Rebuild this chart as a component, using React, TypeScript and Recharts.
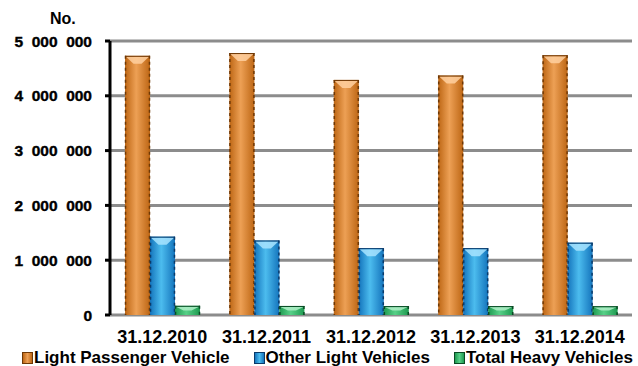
import React from 'react';
import { BarChart, Bar, XAxis, YAxis, CartesianGrid, Legend } from 'recharts';

// vehicle fleet at year end
const dates = ['31.12.2010', '31.12.2011', '31.12.2012', '31.12.2013', '31.12.2014'];
const lightPassenger = [4730000, 4780000, 4290000, 4370000, 4740000];
const otherLight = [1430000, 1360000, 1220000, 1220000, 1320000];
const totalHeavy = [168000, 165000, 162000, 162000, 160000];
const yTicks = [0, 1000000, 2000000, 3000000, 4000000, 5000000];

const series = [
  { key: 'lpv', name: 'Light Passenger Vehicle', base: '#bd6614', light: '#eda055', dark: '#6e3806', cap: '#ffd0a0' },
  { key: 'olv', name: 'Other Light Vehicles', base: '#1474bc', light: '#4cbcee', dark: '#0a3a6a', cap: '#a8e4ff' },
  { key: 'thv', name: 'Total Heavy Vehicles', base: '#1e9a50', light: '#58d088', dark: '#0a4a24', cap: '#b0f0c8' },
];

const data = dates.map((d, i) => ({
  date: d,
  lpv: lightPassenger[i],
  olv: otherLight[i],
  thv: totalHeavy[i],
}));

const FONT = '"Liberation Sans", Arial, sans-serif';

const fmt = (v: number) => v.toLocaleString('en-US').replace(/,/g, '\u2007');

const makeShape = (s: typeof series[number]) => (props: any) => {
  const { x, y, width, height } = props;
  if (!height || height <= 0) return null;
  const capH = Math.min(8, height * 0.5);
  return (
    <g>
      <rect x={x} y={y} width={width} height={height} fill={`url(#grad-${s.key})`} />
      <polygon
        points={`${x + 1},${y + 1} ${x + width - 1},${y + 1} ${x + width / 2 + 4},${y + capH} ${x + width / 2 - 4},${y + capH}`}
        fill={s.cap}
        opacity={0.85}
      />
      <line x1={x + 0.5} y1={y} x2={x + 0.5} y2={y + height} stroke={s.dark} strokeWidth={1.5} strokeDasharray="3 3" />
      <line x1={x + width - 0.5} y1={y} x2={x + width - 0.5} y2={y + height} stroke={s.dark} strokeWidth={1.5} strokeDasharray="3 3" />
      <line x1={x} y1={y + 0.5} x2={x + width} y2={y + 0.5} stroke={s.dark} strokeWidth={1} />
    </g>
  );
};

const renderLegend = () => (
  <div style={{ display: 'flex', alignItems: 'center', height: 20, paddingLeft: 22, fontFamily: FONT, fontWeight: 'bold', fontSize: 17, color: '#000' }}>
    {series.map((s) => (
      <div key={s.key} style={{ display: 'flex', alignItems: 'center', marginRight: 24 }}>
        <span
          style={{
            display: 'inline-block',
            width: 11,
            height: 12,
            marginRight: 1,
            border: `1px solid ${s.dark}`,
            boxSizing: 'border-box',
            background: `linear-gradient(90deg, ${s.base}, ${s.light} 50%, ${s.base})`,
          }}
        />
        <span style={{ whiteSpace: 'nowrap' }}>{s.name}</span>
      </div>
    ))}
  </div>
);

export default function App() {
  return (
    <div style={{ position: 'absolute', left: 0, top: 0, width: 638, height: 366, background: '#fff' }}>
      <div style={{ position: 'absolute', left: 50, top: 10, fontFamily: FONT, fontWeight: 'bold', fontSize: 16 }}>No.</div>
      <BarChart
        width={638}
        height={366}
        data={data}
        margin={{ top: 41, right: 6, left: 0, bottom: 1 }}
        barSize={25}
        barGap={0}
      >
        <defs>
          {series.map((s) => (
            <linearGradient key={s.key} id={`grad-${s.key}`} x1="0" y1="0" x2="1" y2="0">
              <stop offset="0%" stopColor={s.base} />
              <stop offset="45%" stopColor={s.light} />
              <stop offset="100%" stopColor={s.base} />
            </linearGradient>
          ))}
        </defs>
        <CartesianGrid vertical={false} stroke="#8c8c8c" strokeWidth={3} />
        <XAxis
          dataKey="date"
          axisLine={false}
          tickLine={false}
          height={30}
          tickMargin={9}
          tick={{ fill: '#000', fontFamily: FONT, fontWeight: 'bold', fontSize: 18 }}
        />
        <YAxis
          width={110}
          domain={[0, 5000000]}
          ticks={yTicks}
          interval={0}
          tickFormatter={fmt}
          axisLine={{ stroke: '#000', strokeWidth: 3 }}
          tickLine={{ stroke: '#000', strokeWidth: 3 }}
          tickSize={5}
          tickMargin={13}
          tick={{ fill: '#000', stroke: '#000', strokeWidth: 0.4, fontFamily: FONT, fontWeight: 'bold', fontSize: 15.5 }}
        />
        <Legend
          verticalAlign="bottom"
          height={20}
          content={renderLegend}
          wrapperStyle={{ bottom: -2, left: 0 }}
        />
        {series.map((s) => (
          <Bar
            key={s.key}
            dataKey={s.key}
            name={s.name}
            fill={s.base}
            shape={makeShape(s)}
            isAnimationActive={false}
          />
        ))}
      </BarChart>
    </div>
  );
}
